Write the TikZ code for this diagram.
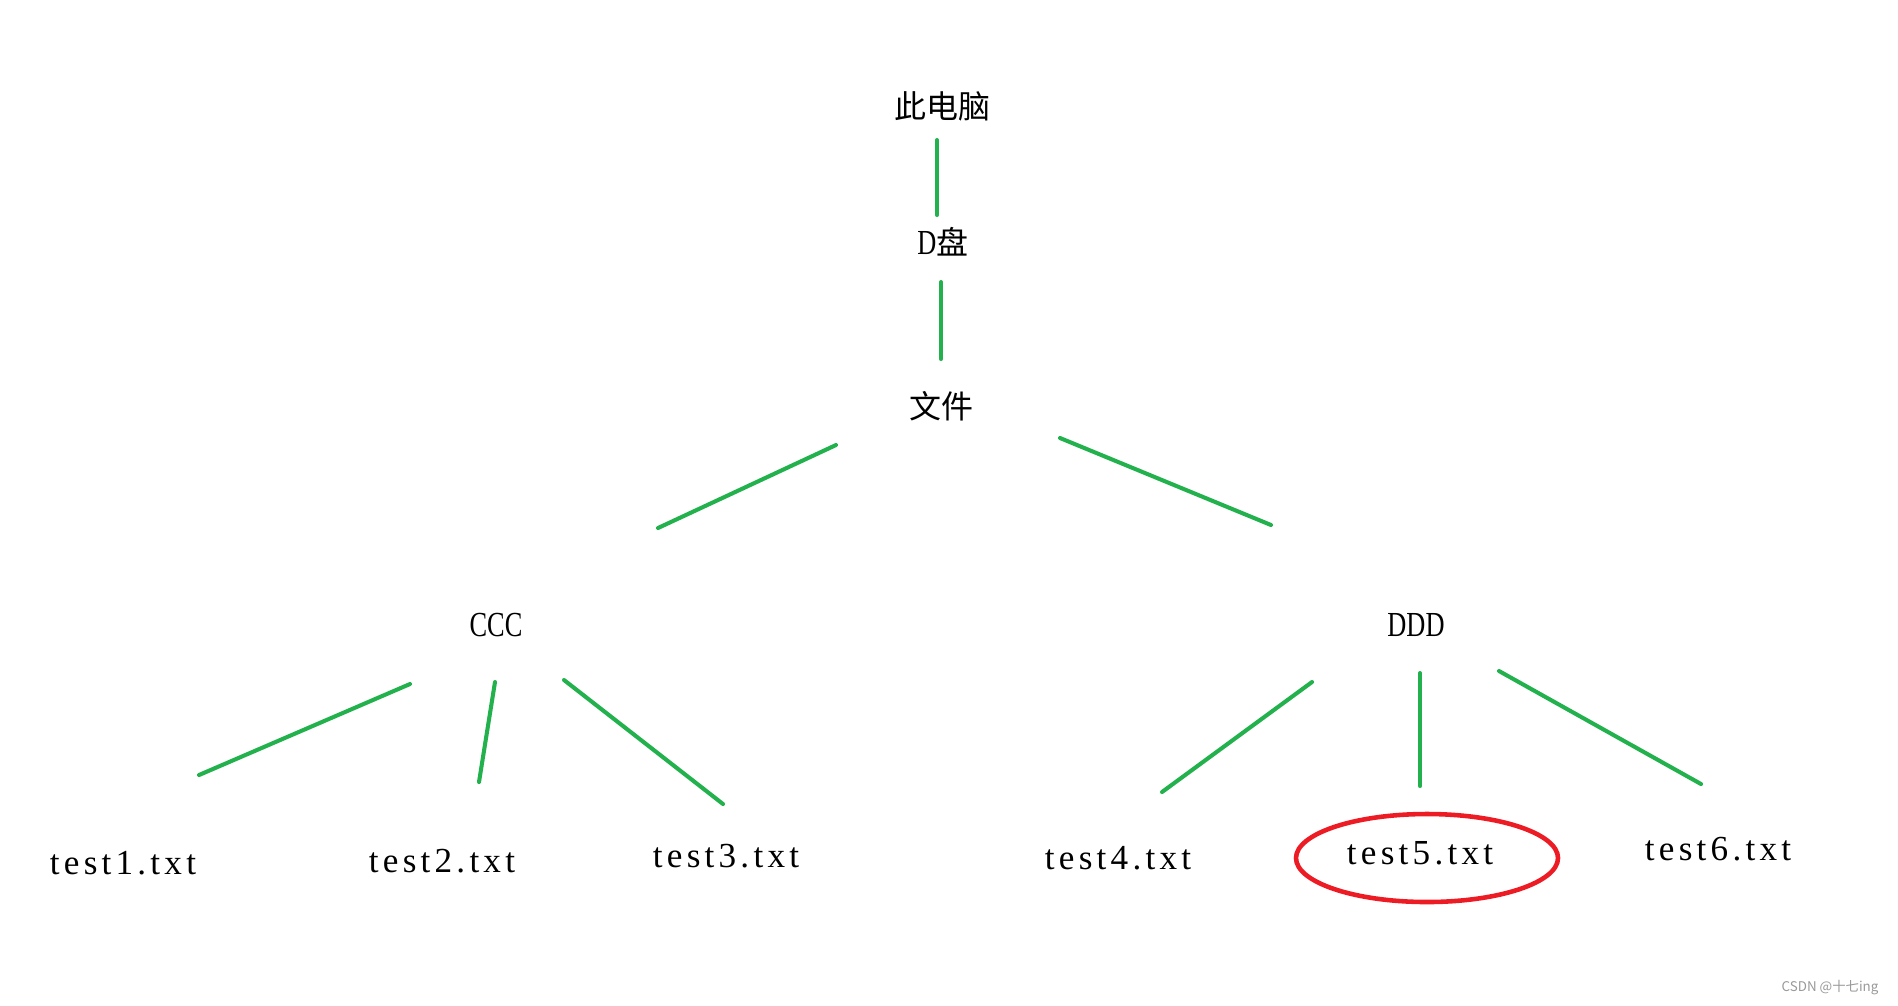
\documentclass[tikz,border=0pt]{standalone}
\usepackage{fontspec}
\setmainfont{Liberation Serif}[FakeStretch=0.75]
\newfontfamily\namefont{Liberation Serif}[LetterSpace=12]
\newfontfamily\cjk{Noto Sans CJK SC}
\definecolor{lgreen}{HTML}{22B14C}
\definecolor{lred}{HTML}{ED1C24}
\begin{document}
\begin{tikzpicture}[x=0.01cm, y=-0.01cm]
    \tikzstyle{lbl}=[inner sep=0pt, font=\fontsize{9.1}{11}\selectfont]
    \tikzstyle{dir}=[inner sep=0pt, font=\fontsize{10}{12}\selectfont]
    \tikzstyle{fname}=[inner sep=0pt, font=\namefont\fontsize{10}{12}\selectfont]
    \tikzstyle{link}=[draw=lgreen, line width=1.15pt, line cap=round]
    \tikzstyle{ring}=[draw=lred, line width=1.3pt]
    \useasboundingbox (0,0) rectangle (1898,1005);
    % top chain
    \node[lbl] (pc) at (942,106) {\cjk 此电脑};
    \node[lbl] (disk) at (943,242) {{\fontsize{10}{12}\selectfont D}{\cjk 盘}};
    \node[lbl] (file) at (941,406) {\cjk 文件};
    \draw[link] ([shift={(-5,34)}]pc.center) -- ([shift={(-6,-27)}]disk.center);
    \draw[link] ([shift={(-2,40)}]disk.center) -- ([shift={(0,-47)}]file.center);
    % folders
    \node[dir] (ccc) at (496,625) {CCC};
    \node[dir] (ddd) at (1416,625) {DDD};
    \draw[link] ([shift={(-105,39)}]file.center) -- ([shift={(162,-97)}]ccc.center);
    \draw[link] ([shift={(119,32)}]file.center) -- ([shift={(-145,-100)}]ddd.center);
    % files under CCC
    \node[fname] (t1) at (123,863) {test1.txt};
    \node[fname] (t2) at (442,861) {test2.txt};
    \node[fname] (t3) at (726,856) {test3.txt};
    \draw[link] ([shift={(-86,59)}]ccc.center) -- ([shift={(76,-88)}]t1.center);
    \draw[link] ([shift={(-1,57)}]ccc.center) -- ([shift={(37,-79)}]t2.center);
    \draw[link] ([shift={(68,55)}]ccc.center) -- ([shift={(-3,-52)}]t3.center);
    % files under DDD
    \node[fname] (t4) at (1118,858) {test4.txt};
    \node[fname] (t5) at (1420,853) {test5.txt};
    \node[fname] (t6) at (1718,849) {test6.txt};
    \draw[link] ([shift={(-104,57)}]ddd.center) -- ([shift={(44,-66)}]t4.center);
    \draw[link] ([shift={(4,48)}]ddd.center) -- ([shift={(0,-67)}]t5.center);
    \draw[link] ([shift={(83,46)}]ddd.center) -- ([shift={(-17,-65)}]t6.center);
    % marked file
    \draw[ring] ([shift={(7,5)}]t5.center) ellipse (131 and 44);
    % watermark
    \node[inner sep=0pt, text=gray!80, font=\cjk\fontsize{3.8}{4.5}\selectfont] (wm) at (1830,988) {CSDN @十七ing};
\end{tikzpicture}
\end{document}
